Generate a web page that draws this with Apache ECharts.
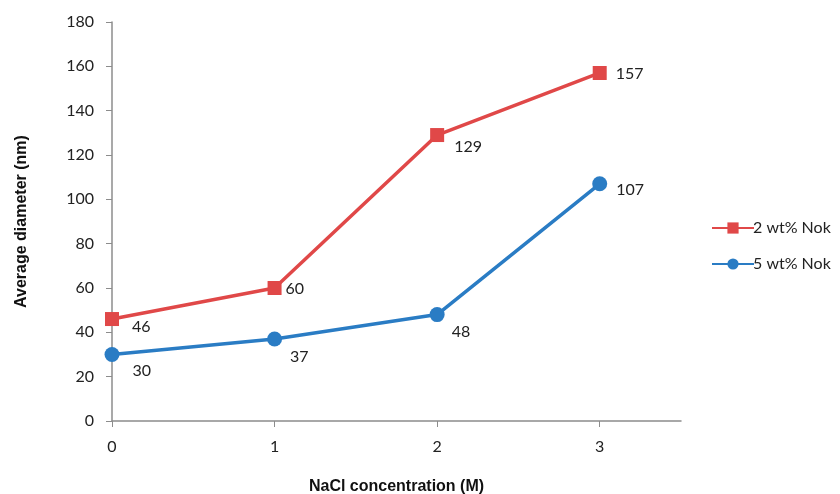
<!DOCTYPE html>
<html>
<head>
<meta charset="utf-8">
<script src="https://cdn.jsdelivr.net/npm/echarts@6/dist/echarts.min.js"></script>
<style>
  html, body { margin: 0; padding: 0; background: #fff; }
  #chart { width: 840px; height: 494px; }
</style>
</head>
<body>
<div id="chart"></div>
<script>
// NaCl concentration (M)
const concentrations = [0, 1, 2, 3];
// average diameter (nm)
const nok2 = [46, 60, 129, 157];
const nok5 = [30, 37, 48, 107];
const seriesNames = ["2 wt% Nok", "5 wt% Nok"];
const yTicks = [0, 20, 40, 60, 80, 100, 120, 140, 160, 180];

// label nudges, per point (dx, dy)
const nok2Offsets = [[8, 8], [-1, 1], [5, 12], [4, 1]];
const nok5Offsets = [[8, 16], [3, 18], [2, 17], [4, 6]];

const labelFont = "Lato";
const axisGray = "#8c8c8c";

const toData = (vals, offs) =>
  vals.map((v, i) => ({
    value: [concentrations[i], v],
    label: { offset: offs[i] }
  }));

const chart = echarts.init(document.getElementById("chart"));
chart.setOption({
  animation: false,
  grid: { left: 112, right: 159, top: 22, bottom: 73, outerBoundsMode: "none", containLabel: false },
  legend: {
    orient: "vertical",
    left: 706,
    top: 215,
    itemWidth: 42,
    itemHeight: 14,
    itemGap: 20,
    data: seriesNames,
    textStyle: { fontFamily: labelFont, fontSize: 16, color: "#222", padding: [0, 0, 0, -6] }
  },
  xAxis: {
    type: "value",
    min: 0,
    max: 3.5,
    interval: 1,
    name: "NaCl concentration (M)",
    nameLocation: "middle",
    nameGap: 58,
    nameTextStyle: { fontFamily: "Liberation Sans", fontWeight: "bold", fontSize: 16, color: "#111" },
    splitLine: { show: false },
    axisLine: { lineStyle: { color: axisGray, width: 1.5 } },
    axisTick: { length: 6, lineStyle: { color: axisGray }, customValues: concentrations },
    axisLabel: {
      customValues: concentrations,
      margin: 18,
      fontFamily: labelFont,
      fontSize: 16,
      color: "#222"
    }
  },
  yAxis: {
    type: "value",
    min: 0,
    max: 180,
    interval: 20,
    name: "Average diameter (nm)",
    nameLocation: "middle",
    nameGap: 82,
    nameTextStyle: { fontFamily: "Liberation Sans", fontWeight: "bold", fontSize: 16, color: "#111" },
    splitLine: { show: false },
    axisLine: { show: true, lineStyle: { color: axisGray, width: 1.5 } },
    axisTick: { show: true, length: 6, lineStyle: { color: axisGray }, customValues: yTicks },
    axisLabel: {
      customValues: yTicks,
      margin: 18,
      fontFamily: labelFont,
      fontSize: 16,
      color: "#222"
    }
  },
  series: [
    {
      name: seriesNames[0],
      type: "line",
      data: toData(nok2, nok2Offsets),
      symbol: "rect",
      symbolSize: 14,
      color: "#e04848",
      lineStyle: { width: 3.5 },
      label: {
        show: true,
        position: "right",
        formatter: (p) => p.value[1],
        fontFamily: labelFont,
        fontSize: 16,
        color: "#222"
      }
    },
    {
      name: seriesNames[1],
      type: "line",
      data: toData(nok5, nok5Offsets),
      symbol: "circle",
      symbolSize: 15,
      color: "#2a7cc4",
      lineStyle: { width: 3.5 },
      label: {
        show: true,
        position: "right",
        formatter: (p) => p.value[1],
        fontFamily: labelFont,
        fontSize: 16,
        color: "#222"
      }
    }
  ]
});
</script>
</body>
</html>
